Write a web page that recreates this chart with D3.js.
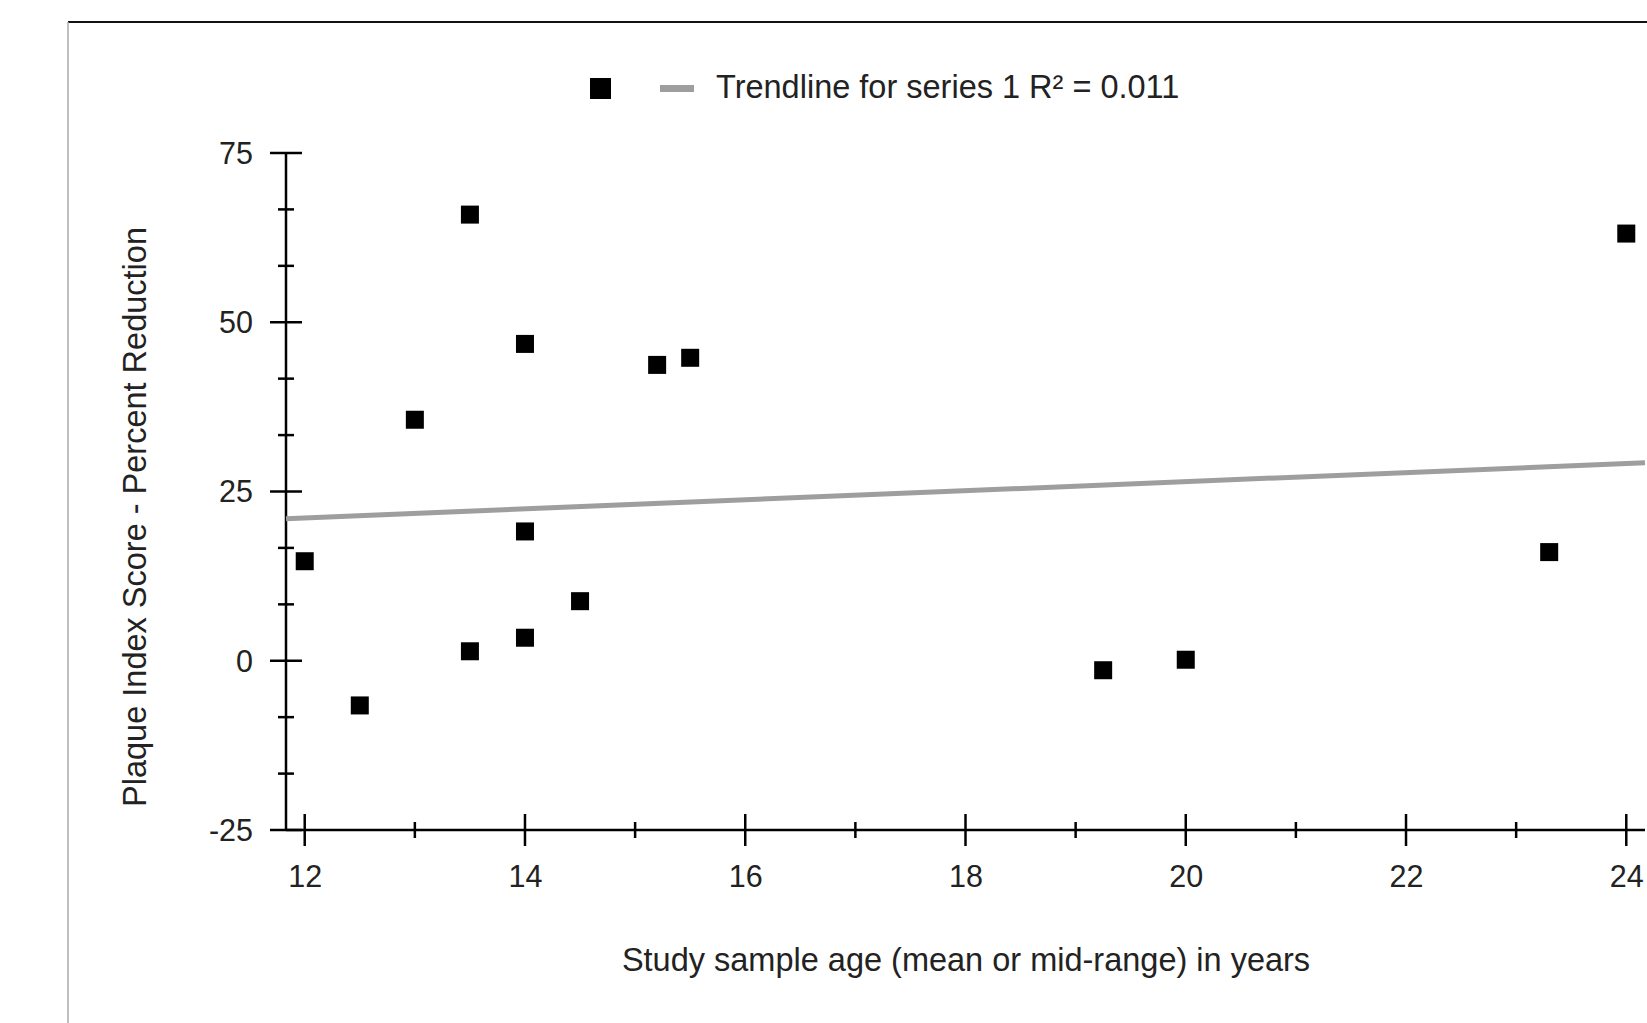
<!DOCTYPE html>
<html>
<head>
<meta charset="utf-8">
<script src="https://cdn.jsdelivr.net/npm/d3@7"></script>
<style>
  body { margin: 0; background: #fff; }
  text { font-family: "Liberation Sans", Arial, sans-serif; fill: #222; }
</style>
</head>
<body>
<div id="chart"></div>
<script>
(function(d3) {
  'use strict';

  // study data: age (mean or mid-range) vs plaque index reduction (%)
  var ages = [12, 12.5, 13, 13.5, 13.5, 14, 14, 14, 14.5, 15.2, 15.5, 19.25, 20, 23.3, 24];
  var reductions = [14.7, -6.6, 35.6, 65.9, 1.4, 46.8, 19.1, 3.4, 8.8, 43.7, 44.75, -1.4, 0.15, 16.05, 63.1];
  var xDomain = [11.83, 24.17];
  var yDomain = [-25, 75];
  var xTicks = [12, 14, 16, 18, 20, 22, 24];
  var xMinor = [13, 15, 17, 19, 21, 23];
  var yTicks = [-25, 0, 25, 50, 75];
  var yMinor = [-16.67, -8.33, 8.33, 16.67, 33.33, 41.67, 58.33, 66.67];

  var width = 1647;
  var height = 1023;

  var svg = d3.select('#chart')
    .append('svg')
    .attr('width', width)
    .attr('height', height);

  // frame
  svg.append('line')
    .attr('x1', 68).attr('x2', width).attr('y1', 22).attr('y2', 22)
    .style('stroke', '#111').style('stroke-width', 2);
  svg.append('line')
    .attr('x1', 68).attr('x2', 68).attr('y1', 22).attr('y2', height)
    .style('stroke', '#aaa').style('stroke-width', 1.5);

  var x = d3.scaleLinear().domain(xDomain).range([286, 1645]);
  var y = d3.scaleLinear().domain(yDomain).range([830, 153]);

  var data = ages.map(function(a, i) { return { x: a, y: reductions[i] }; });

  // least squares trendline
  var mx = d3.mean(ages), my = d3.mean(reductions);
  var sxy = d3.sum(data, function(d) { return (d.x - mx) * (d.y - my); });
  var sxx = d3.sum(data, function(d) { return (d.x - mx) * (d.x - mx); });
  var syy = d3.sum(data, function(d) { return (d.y - my) * (d.y - my); });
  var slope = sxy / sxx;
  var icpt = my - slope * mx;
  var r2 = (sxy * sxy) / (sxx * syy);

  var fmt = function(d) { return String(d); };   // plain hyphen for negatives

  // y axis
  var yAxis = d3.axisLeft(y).tickValues(yTicks).tickSize(0).tickFormat(fmt);
  var gy = svg.append('g').attr('transform', 'translate(286,0)').call(yAxis);
  gy.select('.domain').remove();
  gy.selectAll('text').attr('x', -33).attr('dy', '0.34em').style('font-size', '30.5px').style('fill', '#222');

  svg.append('line')
    .attr('x1', 286).attr('x2', 286).attr('y1', y(75)).attr('y2', y(-25))
    .style('stroke', '#000').style('stroke-width', 2.5);
  svg.selectAll('.ymaj').data(yTicks).enter().append('line')
    .attr('x1', 270).attr('x2', 302)
    .attr('y1', function(d) { return y(d); }).attr('y2', function(d) { return y(d); })
    .style('stroke', '#000').style('stroke-width', 2.5);
  svg.selectAll('.ymin').data(yMinor).enter().append('line')
    .attr('x1', 278).attr('x2', 294)
    .attr('y1', function(d) { return y(d); }).attr('y2', function(d) { return y(d); })
    .style('stroke', '#000').style('stroke-width', 2.5);

  // x axis
  var xAxis = d3.axisBottom(x).tickValues(xTicks).tickSize(0).tickFormat(fmt);
  var gx = svg.append('g').attr('transform', 'translate(0,830)').call(xAxis);
  gx.select('.domain').remove();
  gx.selectAll('text').attr('y', 47).attr('dy', '0.34em').style('font-size', '30.5px').style('fill', '#222');

  svg.append('line')
    .attr('x1', 286).attr('x2', 1645).attr('y1', 830).attr('y2', 830)
    .style('stroke', '#000').style('stroke-width', 2.5);
  svg.selectAll('.xmaj').data(xTicks).enter().append('line')
    .attr('x1', function(d) { return x(d); }).attr('x2', function(d) { return x(d); })
    .attr('y1', 814).attr('y2', 846)
    .style('stroke', '#000').style('stroke-width', 2.5);
  svg.selectAll('.xmin').data(xMinor).enter().append('line')
    .attr('x1', function(d) { return x(d); }).attr('x2', function(d) { return x(d); })
    .attr('y1', 822).attr('y2', 838)
    .style('stroke', '#000').style('stroke-width', 2.5);

  // trendline
  svg.append('line')
    .attr('x1', x(xDomain[0])).attr('y1', y(icpt + slope * xDomain[0]))
    .attr('x2', x(xDomain[1])).attr('y2', y(icpt + slope * xDomain[1]))
    .style('stroke', '#9e9e9e').style('stroke-width', 5);

  // points
  var sz = 18;
  svg.selectAll('.pt').data(data).enter().append('rect')
    .attr('x', function(d) { return x(d.x) - sz / 2; })
    .attr('y', function(d) { return y(d.y) - sz / 2; })
    .attr('width', sz).attr('height', sz)
    .style('fill', '#000');

  // axis titles
  svg.append('text')
    .attr('x', 966).attr('y', 971)
    .attr('text-anchor', 'middle')
    .style('font-size', '32.5px')
    .text('Study sample age (mean or mid-range) in years');

  svg.append('text')
    .attr('transform', 'translate(146,517) rotate(-90)')
    .attr('text-anchor', 'middle')
    .style('font-size', '32.5px')
    .text('Plaque Index Score - Percent Reduction');

  // legend
  svg.append('rect')
    .attr('x', 590).attr('y', 78).attr('width', 21).attr('height', 21)
    .style('fill', '#000');
  svg.append('rect')
    .attr('x', 660).attr('y', 85).attr('width', 34).attr('height', 7)
    .style('fill', '#9e9e9e');
  svg.append('text')
    .attr('x', 716).attr('y', 98)
    .style('font-size', '32.5px')
    .text('Trendline for series 1 R\u00b2 = ' + d3.format('.3f')(r2));

})(window.d3);
</script>
</body>
</html>
